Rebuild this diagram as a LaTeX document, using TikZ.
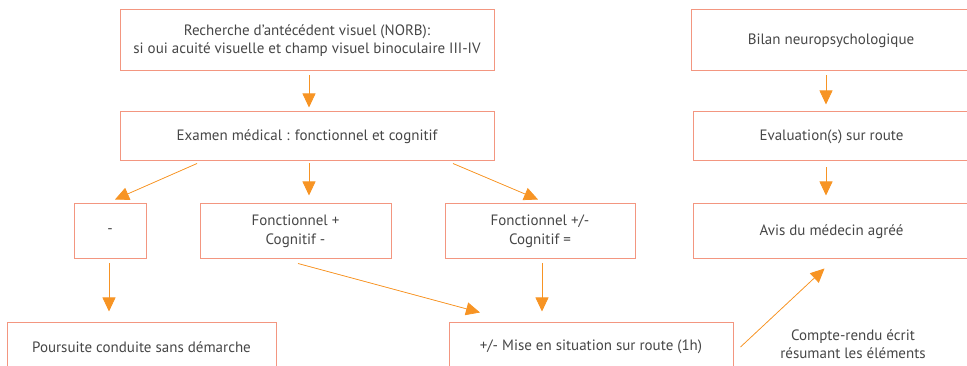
\documentclass[tikz,border=0pt]{standalone}
\usepackage{fontspec}
\setmainfont{PT Sans}
\usepackage{tikz}
\usetikzlibrary{positioning,arrows.meta}
\definecolor{boxline}{RGB}{243,150,128}
\definecolor{arrline}{RGB}{247,148,36}
\definecolor{txt}{RGB}{70,70,70}

\begin{document}
\begin{tikzpicture}[x=1pt,y=-1pt,
  font=\fontsize{15}{18.5}\selectfont,text=txt,
  >={Triangle[length=14pt,width=13pt]},
  box/.style={draw=boxline,line width=1pt,align=center,inner sep=0pt},
  arr/.style={->,draw=arrline,fill=arrline,line width=0.75pt}]
  \useasboundingbox (0,0) rectangle (967,366);
  \clip (0,0) rectangle (967,366);
  % colonne principale
  \node[box,minimum width=374pt,minimum height=61pt] (rech) at (307,40.5)
    {Recherche d’antécédent visuel (NORB):\\si oui acuité visuelle et champ visuel binoculaire III-IV};
  \node[box,minimum width=374pt,minimum height=49pt] (exam) at (307,136.5)
    {Examen médical : fonctionnel et cognitif};
  \node[box,minimum width=72pt,minimum height=55pt] (neg) at (110,231.5) {-};
  \node[box,minimum width=191pt,minimum height=55pt] (fonc) at (295.5,231.5)
    {Fonctionnel +\\Cognitif -};
  \node[box,minimum width=190pt,minimum height=55pt] (foncpm) at (540,231.5)
    {Fonctionnel +/-\\Cognitif =};
  \node[box,minimum width=269pt,minimum height=50pt] (pours) at (141.5,347)
    {Poursuite conduite sans démarche};
  \node[box,minimum width=284pt,minimum height=50pt] (mise) at (591,347)
    {+/- Mise en situation sur route (1h)};
  % colonne de droite
  \node[box,minimum width=280pt,minimum height=61pt] (bilan) at (831,40.5)
    {Bilan neuropsychologique};
  \node[box,minimum width=277pt,minimum height=49pt] (eval) at (831.5,136.5)
    {Evaluation(s) sur route};
  \node[box,minimum width=277pt,minimum height=55pt] (avis) at (831.5,231.5)
    {Avis du médecin agréé};
  \node[align=center] (cr) at (853,344) {Compte-rendu écrit\\résumant les éléments};
  % fleches
  \draw[arr] ([xshift=2pt,yshift=-4pt]rech.south) -- ([xshift=2pt,yshift=4pt]exam.north);
  \draw[arr] ([xshift=-110pt,yshift=-2pt]exam.south) -- ([xshift=5pt,yshift=4pt]neg.north);
  \draw[arr] ([xshift=2pt,yshift=-2pt]exam.south) -- ([xshift=13.5pt,yshift=8pt]fonc.north);
  \draw[arr] ([xshift=146pt,yshift=-2pt]exam.south) -- ([xshift=-2pt,yshift=4pt]foncpm.north);
  \draw[arr] ([xshift=-1pt,yshift=-4pt]neg.south) -- ([xshift=-32.5pt,yshift=10pt]pours.north);
  \draw[arr] ([xshift=2.5pt,yshift=-4pt]fonc.south) -- ([xshift=-111pt,yshift=9pt]mise.north);
  \draw[arr] ([xshift=2pt,yshift=-4pt]foncpm.south) -- ([xshift=-49pt,yshift=10pt]mise.north);
  \draw[arr] ([xshift=7pt]mise.east) -- ([xshift=132pt,yshift=-9pt]avis.south west);
  \draw[arr] ([xshift=-5pt,yshift=-4pt]bilan.south) -- ([xshift=-5.5pt,yshift=7pt]eval.north);
  \draw[arr] ([xshift=-5.5pt,yshift=-6pt]eval.south) -- ([xshift=-5.5pt,yshift=8pt]avis.north);
\end{tikzpicture}
\end{document}
